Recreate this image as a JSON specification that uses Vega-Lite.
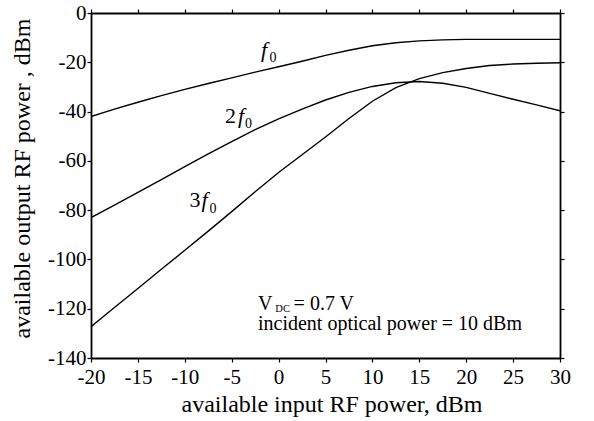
{
  "$schema": "https://vega.github.io/schema/vega-lite/v6.json",
  "width": 469,
  "height": 345,
  "autosize": {"type": "none"},
  "padding": {"left": 91, "top": 13, "right": 34, "bottom": 63},
  "background": "white",
  "config": {
    "view": {"stroke": null},
    "font": "Liberation Serif",
    "axis": {
      "domainColor": "black", "domainWidth": 1.8, "tickColor": "black", "tickWidth": 1.2,
      "tickSize": 4, "grid": false, "labelColor": "black", "titleColor": "black",
      "labelFont": "Liberation Serif", "titleFont": "Liberation Serif",
      "labelFontSize": 21, "titleFontSize": 24, "titleFontWeight": "normal"
    }
  },
  "resolve": {"scale": {"x": "independent", "y": "independent"}, "axis": {"x": "independent", "y": "independent"}},
  "datasets": {
    "curves": [
        {"h":"f0","x":-20,"y":-42},{"h":"f0","x":-17.5,"y":-39},{"h":"f0","x":-15,"y":-36.2},{"h":"f0","x":-12.5,"y":-33.5},{"h":"f0","x":-10,"y":-31},{"h":"f0","x":-7.5,"y":-28.6},{"h":"f0","x":-5,"y":-26.3},{"h":"f0","x":-2.5,"y":-24},{"h":"f0","x":0,"y":-21.8},{"h":"f0","x":2.5,"y":-19.6},{"h":"f0","x":5,"y":-17.2},{"h":"f0","x":7.5,"y":-15.1},{"h":"f0","x":10,"y":-13.3},{"h":"f0","x":12.5,"y":-12.1},{"h":"f0","x":15,"y":-11.3},{"h":"f0","x":17.5,"y":-10.9},{"h":"f0","x":20,"y":-10.7},{"h":"f0","x":25,"y":-10.7},{"h":"f0","x":30,"y":-10.7},
        {"h":"2f0","x":-20,"y":-83},{"h":"2f0","x":-17.5,"y":-78},{"h":"2f0","x":-15,"y":-72.8},{"h":"2f0","x":-12.5,"y":-67.6},{"h":"2f0","x":-10,"y":-62.3},{"h":"2f0","x":-7.5,"y":-57.2},{"h":"2f0","x":-5,"y":-52.2},{"h":"2f0","x":-2.5,"y":-47.3},{"h":"2f0","x":0,"y":-43},{"h":"2f0","x":2.5,"y":-39},{"h":"2f0","x":5,"y":-35.3},{"h":"2f0","x":7.5,"y":-32.2},{"h":"2f0","x":10,"y":-29.8},{"h":"2f0","x":12.5,"y":-28.3},{"h":"2f0","x":15,"y":-27.8},{"h":"2f0","x":17.5,"y":-28.5},{"h":"2f0","x":20,"y":-30.2},{"h":"2f0","x":22.5,"y":-32.6},{"h":"2f0","x":25,"y":-35},{"h":"2f0","x":27.5,"y":-37.3},{"h":"2f0","x":30,"y":-39.7},
        {"h":"3f0","x":-20,"y":-127.3},{"h":"3f0","x":-17.5,"y":-119.5},{"h":"3f0","x":-15,"y":-111.8},{"h":"3f0","x":-12.5,"y":-104},{"h":"3f0","x":-10,"y":-96.3},{"h":"3f0","x":-7.5,"y":-88.5},{"h":"3f0","x":-5,"y":-80.6},{"h":"3f0","x":-2.5,"y":-72.5},{"h":"3f0","x":0,"y":-64.7},{"h":"3f0","x":2.5,"y":-57.5},{"h":"3f0","x":5,"y":-50.3},{"h":"3f0","x":7.5,"y":-42.8},{"h":"3f0","x":10,"y":-35.8},{"h":"3f0","x":12.5,"y":-30.3},{"h":"3f0","x":15,"y":-26.6},{"h":"3f0","x":17.5,"y":-24.2},{"h":"3f0","x":20,"y":-22.5},{"h":"3f0","x":22.5,"y":-21.3},{"h":"3f0","x":25,"y":-20.7},{"h":"3f0","x":27.5,"y":-20.4},{"h":"3f0","x":30,"y":-20.2}
    ]
  },
  "layer": [
    {
      "data": {"name": "curves"},
      "mark": {"type": "line", "color": "black", "strokeWidth": 1.4, "clip": true},
      "encoding": {
        "x": {"field": "x", "type": "quantitative",
              "scale": {"domain": [-20, 30], "nice": false, "zero": false},
              "axis": {"orient": "bottom", "values": [-20,-15,-10,-5,0,5,10,15,20,25,30],
                       "labelExpr": "'' + datum.value", "labelPadding": 4.5, "labelFlush": false,
                       "title": "available input RF power, dBm",
                       "titleX": 240.5, "titleY": 53, "titleAlign": "center", "titleBaseline": "alphabetic"}},
        "y": {"field": "y", "type": "quantitative",
              "scale": {"domain": [-140, 0], "nice": false, "zero": false},
              "axis": {"orient": "left", "values": [-140,-120,-100,-80,-60,-40,-20,0],
                       "labelExpr": "'' + datum.value", "labelPadding": 1, "labelFlush": false,
                       "title": "available output RF power , dBm",
                       "titleX": -62, "titleY": 165, "titleAngle": -90, "titleAlign": "center", "titleBaseline": "alphabetic"}},
        "detail": {"field": "h", "type": "nominal"}
      }
    },
    {
      "data": {"name": "curves"},
      "mark": {"type": "line", "color": "black", "strokeOpacity": 0},
      "encoding": {
        "x": {"field": "x", "type": "quantitative",
              "scale": {"domain": [-20, 30], "nice": false, "zero": false},
              "axis": {"orient": "top", "values": [-20,-15,-10,-5,0,5,10,15,20,25,30],
                       "labelColor": "white", "titleColor": "white", "title": "TOP"}},
        "y": {"field": "y", "type": "quantitative",
              "scale": {"domain": [-140, 0], "nice": false, "zero": false},
              "axis": {"orient": "right", "values": [-140,-120,-100,-80,-60,-40,-20,0],
                       "labelColor": "white", "titleColor": "white", "title": "RIGHT"}},
        "detail": {"field": "h", "type": "nominal"}
      }
    },
    {
      "data": {"values": [
        {"t":"f","x":-1.556,"y":-17.86},
        {"t":"f","x":-4.01,"y":-44.64},
        {"t":"f","x":-7.9,"y":-78.72}
      ]},
      "mark": {"type": "text", "font": "Liberation Serif", "fontStyle": "italic", "fontSize": 22, "align": "center", "baseline": "alphabetic", "color": "black"},
      "encoding": {
        "x": {"field": "x", "type": "quantitative", "scale": {"domain": [-20, 30], "nice": false, "zero": false}, "axis": null},
        "y": {"field": "y", "type": "quantitative", "scale": {"domain": [-140, 0], "nice": false, "zero": false}, "axis": null},
        "text": {"field": "t"}
      }
    },
    {
      "data": {"values": [
        {"t":"2","x":-5.13,"y":-44.64},
        {"t":"3","x":-8.91,"y":-78.72}
      ]},
      "mark": {"type": "text", "font": "Liberation Serif", "fontSize": 22, "align": "center", "baseline": "alphabetic", "color": "black"},
      "encoding": {
        "x": {"field": "x", "type": "quantitative", "scale": {"domain": [-20, 30], "nice": false, "zero": false}, "axis": null},
        "y": {"field": "y", "type": "quantitative", "scale": {"domain": [-140, 0], "nice": false, "zero": false}, "axis": null},
        "text": {"field": "t"}
      }
    },
    {
      "data": {"values": [
        {"t":"0","x":-0.597,"y":-19.88},
        {"t":"0","x":-3.21,"y":-46.67},
        {"t":"0","x":-6.99,"y":-81.16}
      ]},
      "mark": {"type": "text", "font": "Liberation Serif", "fontSize": 14, "align": "center", "baseline": "alphabetic", "color": "black"},
      "encoding": {
        "x": {"field": "x", "type": "quantitative", "scale": {"domain": [-20, 30], "nice": false, "zero": false}, "axis": null},
        "y": {"field": "y", "type": "quantitative", "scale": {"domain": [-140, 0], "nice": false, "zero": false}, "axis": null},
        "text": {"field": "t"}
      }
    },
    {
      "data": {"values": [
        {"t":"V","x":-2.196,"y":-120.5},
        {"t":"= 0.7 V","x":1.6,"y":-120.5},
        {"t":"incident optical power = 10 dBm","x":-2.196,"y":-128.6}
      ]},
      "mark": {"type": "text", "font": "Liberation Serif", "fontSize": 20, "align": "left", "baseline": "alphabetic", "color": "black"},
      "encoding": {
        "x": {"field": "x", "type": "quantitative", "scale": {"domain": [-20, 30], "nice": false, "zero": false}, "axis": null},
        "y": {"field": "y", "type": "quantitative", "scale": {"domain": [-140, 0], "nice": false, "zero": false}, "axis": null},
        "text": {"field": "t"}
      }
    },
    {
      "data": {"values": [
        {"t":"DC","x":-0.35,"y":-121.3}
      ]},
      "mark": {"type": "text", "font": "Liberation Serif", "fontSize": 10.5, "align": "left", "baseline": "alphabetic", "color": "black"},
      "encoding": {
        "x": {"field": "x", "type": "quantitative", "scale": {"domain": [-20, 30], "nice": false, "zero": false}, "axis": null},
        "y": {"field": "y", "type": "quantitative", "scale": {"domain": [-140, 0], "nice": false, "zero": false}, "axis": null},
        "text": {"field": "t"}
      }
    }
  ]
}
